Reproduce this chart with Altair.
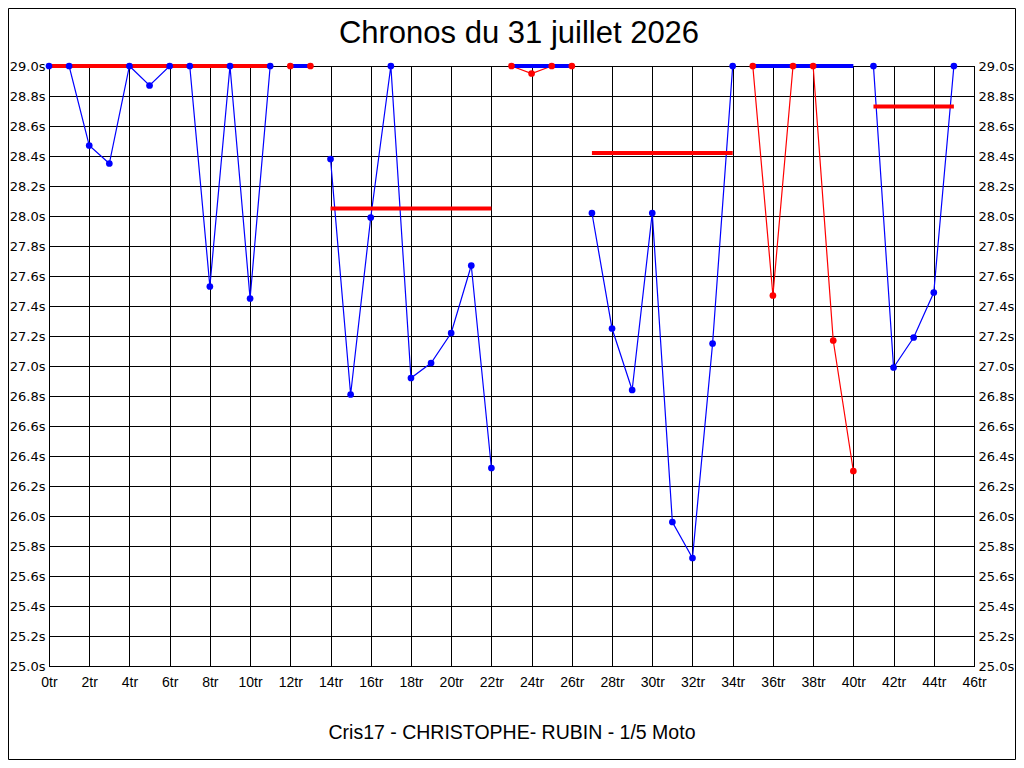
import altair as alt
import pandas as pd

# ---- data ----
laps = list(range(46))
times = [
    # segment 1 (laps 0-11)
    29.0, 29.0, 28.47, 28.35, 29.0, 28.87, 29.0, 29.0, 27.53, 29.0, 27.45, 29.0,
    # segment 2 (laps 12-13)
    29.0, 29.0,
    # segment 3 (laps 14-22)
    28.38, 26.81, 27.99, 29.0, 26.92, 27.02, 27.22, 27.67, 26.32,
    # segment 4 (laps 23-26)
    29.0, 28.95, 29.0, 29.0,
    # segment 5 (laps 27-34)
    28.02, 27.25, 26.84, 28.02, 25.96, 25.72, 27.15, 29.0,
    # segment 6 (laps 35-40)
    29.0, 27.47, 29.0, 29.0, 27.17, 26.30,
    # segment 7 (laps 41-45)
    29.0, 26.99, 27.19, 27.49, 29.0,
]
seg_sizes = [12, 2, 9, 4, 8, 6, 5]
seg_lap_color = ["#0000ff", "#ff0000", "#0000ff", "#ff0000", "#0000ff", "#ff0000", "#0000ff"]
seg_avg_color = ["#ff0000", "#0000ff", "#ff0000", "#0000ff", "#ff0000", "#0000ff", "#ff0000"]
seg_start = [0, 12, 14, 23, 27, 35, 41]
seg_end = [11, 13, 22, 26, 34, 40, 45]
seg_avg = [29.0, 29.0, 28.05, 29.0, 28.42, 29.0, 28.73]

x_ticks = [0, 2, 4, 6, 8, 10, 12, 14, 16, 18, 20, 22, 24, 26, 28, 30, 32, 34, 36, 38, 40, 42, 44, 46]
y_ticks = [25.0, 25.2, 25.4, 25.6, 25.8, 26.0, 26.2, 26.4, 26.6, 26.8, 27.0,
           27.2, 27.4, 27.6, 27.8, 28.0, 28.2, 28.4, 28.6, 28.8, 29.0]

title_text = "Chronos du 31 juillet 2026"
subtitle_text = "Cris17 - CHRISTOPHE- RUBIN - 1/5 Moto"

# ---- tables ----
seg_ids = []
lap_cols = []
for i, n in enumerate(seg_sizes):
    seg_ids += [i + 1] * n
    lap_cols += [seg_lap_color[i]] * n
df_laps = pd.DataFrame({"tour": laps, "temps": times, "seg": seg_ids, "couleur": lap_cols})
df_avg = pd.DataFrame({"debut": seg_start, "fin": seg_end, "moy": seg_avg,
                       "couleur": seg_avg_color, "seg": list(range(1, 8))})

W, H = 925, 600
xs = alt.Scale(domain=[0, 46], nice=False, zero=False)
ys = alt.Scale(domain=[25, 29], nice=False, zero=False)

LABEL_FONT = "DejaVu Sans"
x_axis = alt.Axis(values=x_ticks, labelExpr="datum.value + 'tr'", grid=True, gridColor="black",
                  gridOpacity=1, gridWidth=1, ticks=False, domainColor="black", domainWidth=1,
                  labelFlush=False, labelOverlap=False, labelPadding=9, labelFont="Liberation Sans",
                  labelFontSize=14, labelColor="black", title=None)
y_axis = alt.Axis(values=y_ticks, labelExpr="format(datum.value, '.1f') + 's'", grid=True,
                  gridColor="black", gridOpacity=1, gridWidth=1, ticks=False, domainColor="black",
                  labelPadding=4, labelFont=LABEL_FONT, labelFontSize=13, labelColor="black",
                  labelOverlap=False, title=None)
y_axis_r = alt.Axis(values=y_ticks, labelExpr="format(datum.value, '.1f') + 's'", grid=False,
                    orient="right", ticks=False, domainColor="black", labelPadding=4,
                    labelFont=LABEL_FONT, labelFontSize=13, labelColor="black",
                    labelOverlap=False, title=None)

lines = alt.Chart(df_laps).mark_line(strokeWidth=1.2).encode(
    x=alt.X("tour:Q", scale=xs, axis=x_axis),
    y=alt.Y("temps:Q", scale=ys, axis=y_axis),
    color=alt.Color("couleur:N", scale=None),
    detail="seg:N",
)

avg = alt.Chart(df_avg).mark_rule(strokeWidth=4).encode(
    x=alt.X("debut:Q", scale=xs),
    x2="fin:Q",
    y=alt.Y("moy:Q", scale=ys, axis=None),
    color=alt.Color("couleur:N", scale=None),
)

dots = alt.Chart(df_laps).mark_circle(size=45, opacity=1).encode(
    x=alt.X("tour:Q", scale=xs),
    y=alt.Y("temps:Q", scale=ys, axis=None),
    color=alt.Color("couleur:N", scale=None),
)

right = alt.Chart(df_laps).mark_point(opacity=0).encode(
    x=alt.X("tour:Q", scale=xs),
    y=alt.Y("temps:Q", scale=ys, axis=y_axis_r),
)

frame_df = pd.DataFrame({"k": [0]})
frame = alt.Chart(frame_df).mark_rect(fill=None, stroke="black", strokeWidth=1).encode(
    x=alt.value(-40.5), x2=alt.value(966.5), y=alt.value(-57.5), y2=alt.value(693.5)
)

txt_df = pd.DataFrame({"t": [title_text]})
title_mark = alt.Chart(txt_df).mark_text(font="Liberation Sans", fontSize=31, color="black",
                                         align="center", baseline="alphabetic").encode(
    text="t:N", x=alt.value(470), y=alt.value(-23)
)
sub_df = pd.DataFrame({"t": [subtitle_text]})
sub_mark = alt.Chart(sub_df).mark_text(font="Liberation Sans", fontSize=19.5, color="black",
                                       align="center", baseline="alphabetic").encode(
    text="t:N", x=alt.value(463), y=alt.value(673)
)

chart = alt.layer(lines, avg, dots, right, frame, title_mark, sub_mark).resolve_scale(
    y="independent"
).properties(
    width=W, height=H,
    autosize=alt.AutoSizeParams(type="none"),
    padding={"left": 41, "top": 58, "right": 42, "bottom": 94},
    background="white",
).configure_view(stroke="black", strokeWidth=1)

chart.save("out.html", embed_options={"renderer": "svg", "actions": False})
